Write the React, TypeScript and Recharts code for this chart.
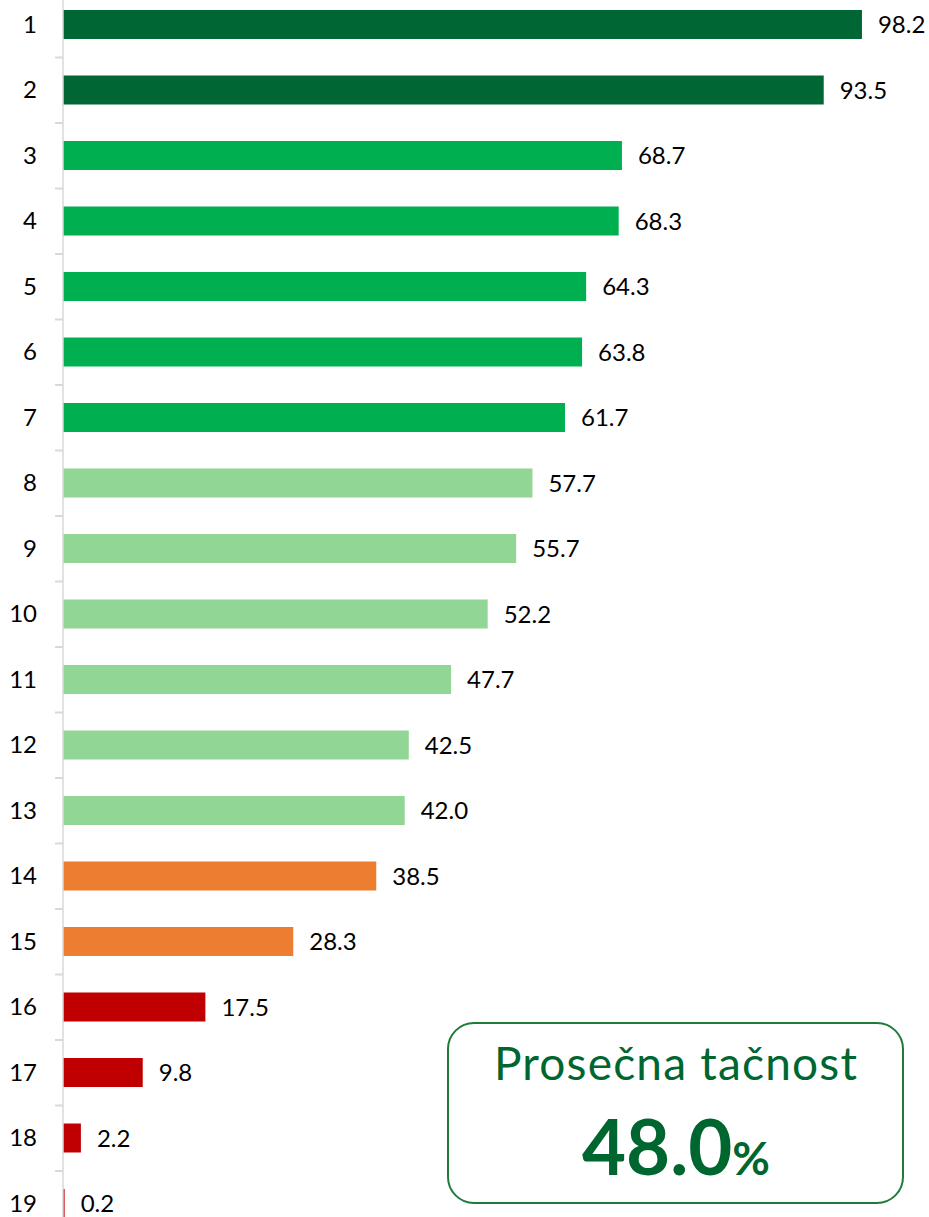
// Accuracy ranking — horizontal bars with a summary badge.

import { BarChart, Bar, XAxis, YAxis, Cell, LabelList } from 'recharts'

const CATEGORIES = ['1', '2', '3', '4', '5', '6', '7', '8', '9', '10', '11', '12', '13', '14', '15', '16', '17', '18', '19']
const VALUES = [98.2, 93.5, 68.7, 68.3, 64.3, 63.8, 61.7, 57.7, 55.7, 52.2, 47.7, 42.5, 42.0, 38.5, 28.3, 17.5, 9.8, 2.2, 0.2]
const TIERS = ['top', 'top', 'high', 'high', 'high', 'high', 'high', 'mid', 'mid', 'mid', 'mid', 'mid', 'mid', 'low', 'low', 'poor', 'poor', 'poor', 'poor']
const AVERAGE = 48.0
const BADGE_TITLE = 'Prosečna tačnost'

const TIER_COLORS: Record<string, string> = {
  top: '#006633',
  high: '#00B050',
  mid: '#92D695',
  low: '#ED7D31',
  poor: '#C00000',
}

const data = CATEGORIES.map((name, i) => ({ name, value: VALUES[i], tier: TIERS[i] }))

const FONT = 'Lato, "Open Sans", sans-serif'
const AXIS_GREY = '#d9d9d9'
const CHART_H = 1244.5
const BAND = CHART_H / CATEGORIES.length

const CategoryTick = ({ x, y, payload }: any) => (
  <g>
    <text x={x - 26} y={y} dy={8} textAnchor="end" fontSize={24} fill="#000" fontFamily={FONT}>
      {payload.value}
    </text>
    {/* tick marks sit between categories, Excel style */}
    <line x1={x - 8} x2={x} y1={y + BAND / 2} y2={y + BAND / 2} stroke={AXIS_GREY} strokeWidth={2} />
  </g>
)

export default function App() {
  return (
    <div style={{ position: 'absolute', left: 0, top: 0, width: 929, height: 1217, overflow: 'hidden', background: '#fff' }}>
      <div style={{ position: 'absolute', left: 0, top: -8.25 }}>
        <BarChart
          width={929}
          height={CHART_H}
          data={data}
          layout="vertical"
          margin={{ top: 0, right: 52.4, left: 0, bottom: 0 }}
        >
          <XAxis type="number" domain={[0, 100]} hide />
          <YAxis
            type="category"
            dataKey="name"
            width={63}
            tickSize={0}
            tickMargin={0}
            tickLine={false}
            axisLine={{ stroke: AXIS_GREY, strokeWidth: 1.5 }}
            tick={<CategoryTick />}
            interval={0}
          />
          <Bar dataKey="value" barSize={29} isAnimationActive={false}>
            {data.map(d => (
              <Cell key={d.name} fill={TIER_COLORS[d.tier]} />
            ))}
            <LabelList
              dataKey="value"
              position="right"
              offset={16}
              fill="#000"
              fontSize={24}
              fontFamily={FONT}
              formatter={(v: any) => Number(v).toFixed(1)}
            />
          </Bar>
        </BarChart>
      </div>

      <svg width={929} height={1217} style={{ position: 'absolute', left: 0, top: 0, pointerEvents: 'none' }}>
        <rect x={448} y={1023} width={455} height={180} rx={26} fill="#fff" stroke="#1E7B3A" strokeWidth={2} />
        <text x={676} y={1080} textAnchor="middle" fontSize={46} letterSpacing={1.2} fill="#00662F" fontFamily={FONT}>
          {BADGE_TITLE}
        </text>
        <text x={676} y={1175} textAnchor="middle" fill="#00662F" fontFamily={FONT} fontWeight={700}>
          <tspan fontSize={76}>{AVERAGE.toFixed(1)}</tspan>
          <tspan fontSize={46}>%</tspan>
        </text>
      </svg>
    </div>
  )
}
